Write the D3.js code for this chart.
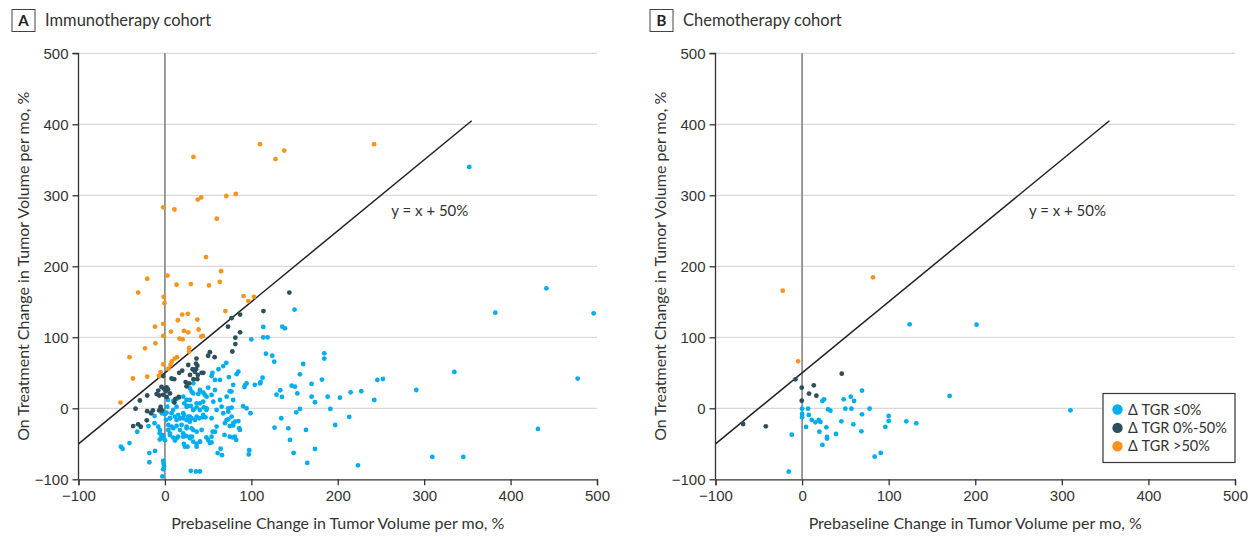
<!DOCTYPE html>
<html>
<head>
<meta charset="utf-8">
<script src="https://cdnjs.cloudflare.com/ajax/libs/d3/7.8.5/d3.min.js"></script>
<style>
  body { margin: 0; background: #fff; }
  svg { font-family: Lato, "Open Sans", sans-serif; }
  .tick text { font-size: 15px; fill: #333; }
</style>
</head>
<body>
<script>
// ---- data: [prebaseline %, on-treatment %] ----
const immunoLow = [ // delta TGR <= 0%
  [100,97],[85,51.5],[83,48],[71,64],[67.5,59.5],[62,55],[55,50],[54,45.5],[63.6,40],[58,40],[74,44],
  [79,33],[75,24],[77,23.5],[92,30],[93,33],[94.5,35],[104,33],[110,35],[90.5,3],[94.5,0],[99,-7],
  [85,-18],[86,-28],[75,-25],[69,-37.5],[75,-40],[78.7,-41],[81,-40],[82.5,-44.6],[61,-63],[66,-66],
  [64.5,-57],[97.6,-59],[97,-65],[54,-48],[52,-49],[48,-41],[30,-88],[36,-89],[40.5,-89],[-3,-96],
  [-2,-74],[-1.5,-78],[-1,-82],[-2,-86],[-18,-63],[-11.5,-60],[-18,-76],[-51,-54],[-49,-57],[-41,-49],
  [-32,-33],[-19,-25],[-12,-21],[-7.7,-26],[-12,-11],[-3.5,-7],[-6,-35],[-4,-40],[-6,-44],[-2,-38],[0,-45],
  [3.5,11.7],[9.6,10.3],[13.5,13.6],[16.2,15],[21.2,16.4],[25,11.7],[22.4,7],[26.2,3.3],[30,3.3],
  [32.8,-2.3],[36.7,1.4],[40.5,7],[45,1.4],[48,-2.3],[13.5,2.3],[9.6,-2.3],[7.7,-7],[11.6,-11.7],
  [15.4,-9.4],[17.4,-14],[22,-9.4],[27,-11.7],[30.9,-14],[34.7,-16.4],[39.7,-14],[43.6,-12.7],[47,-12.7],
  [54,-14],[59.8,-2.3],[65.6,2.3],[67.5,-7],[73.3,-4.7],[77.2,0.9],[79,11.7],[71.4,16.4],[63.7,11.7],
  [56,9.4],[48.2,16.4],[54,18.8],[57.9,25.8],[50,29],[44.4,22],[38.6,20.2],[30.9,23.5],[29,28],
  [32.8,35.2],[40.5,25.8],[5.8,-14],[3.9,-23.5],[7.7,-25.8],[13.5,-24.9],[19.3,-23.5],[25,-25.8],
  [30.9,-28.2],[36.7,-32.9],[42.4,-30.5],[40.5,-47],[36.7,-50.2],[32.8,-47],[29,-40],[24.3,-39],
  [21.2,-35.2],[15.4,-40],[11.6,-45.5],[9.6,-41.3],[5.8,-35.2],[3.9,-30.5],[22,-50.2],[26.2,-54],
  [31.3,-40],[55.2,-32.9],[59.8,-25.8],[57.9,-32.9],[50,-44.6],[54,-40],[73.3,-15.5],[79,-21],
  [86.8,-30.5],[81,-18.8],[1.2,-16.4],[2.7,2.3],[0,-8],[1.9,-6],[79,-24.4],[69.4,-21],[77.2,-11.7],
  [71.4,-16.4],[73.3,0],[110.7,37],[113,43],
  [32.8,21],[40.5,23.4],[46.3,18.7],[28.9,11.7],[36.7,7],[44.3,9.3],[25.1,2.3],[32.8,-2.4],[40.5,-2.4],
  [48.3,0],[21.2,-7],[28.9,-11.8],[36.7,-11.8],[44.3,-9.4],[17.4,-14],[25.1,-16.5],[5.8,-14],[13.5,-16.5],
  [21.2,-14],[28.9,-18.9],[9.6,-28.2],[17.4,-30.6],[25.1,-28.2],[32.8,-30.6],[5.8,-37.6],[13.5,-42.3],
  [21.2,-40],[28.9,-42.3],[40.5,-47],[23.1,-54],[36.7,-54],[-5.8,-30.6],[-3.9,-37.6],[-2,-42.3],
  [150,139],[113.8,114.6],[135.8,115],[138.9,112.7],[113.8,100],[118.8,100],[116.9,77],[124.2,74],
  [126.5,65.7],[184.4,77.5],[184.4,70],[160,62.4],[156.2,47.9],[181.7,40.4],[245.8,39.9],[252.3,41.3],
  [227.2,24],[242.3,11.7],[214.9,22.5],[202.5,15],[188.3,16.4],[169.7,34.3],[173.6,8.5],[169.7,16.4],
  [146.6,31.9],[150.5,30.5],[153.2,21],[133.5,25.4],[129.2,19.2],[135.4,16],[191.4,-0.9],
  [156.2,-0.9],[152,-5.6],[134.6,-14],[126.9,-27.2],[142.8,-28.2],[163.2,-30.5],[144.7,-44.6],
  [197.1,-23.5],[213.3,-12.2],[148.9,-62.9],[173.6,-57.3],[164.7,-77],[223.4,-80.3],
  [352.2,339.9],[382.3,134.7],[441.4,169],[496.1,133.8],[334.9,51.2],[477.6,41.8],[431.7,-29.1],
  [309.4,-68.5],[345.3,-68.5],[290.9,25.8]
];
const immunoMid = [ // delta TGR 0%-50%
  [77,127],[87,132],[114,137],[144,163],[73,115],[87,107],[81.5,99.5],[81.5,90.5],[78,80],[52,79],
  [50,74],[57.5,72],[36.5,70],[36,63],[37.5,60],[27,61],[20,53],[16.5,50],[32,55],[34.5,51.5],[36,55],
  [42.5,50],[44.5,50],[38,47],[29,47],[7.7,42],[10.8,41],[24,37],[28,35],[25,31],[33,41],[37.5,41],
  [-2,45.5],[-4,30],[-1,27.6],[2,29.6],[1,24],[3.5,26.7],[-7.7,25],[-9.6,20],[-6.6,18],[-2,19],[2,16],
  [5.8,21],[12,13],[16,16],[11,8],[-29,11],[-20.5,18],[-34,-0.5],[-20.5,-4],[-14,-3],[-5,2],[-6.6,-3],
  [-3.5,-3],[-36.7,-25],[-31,-22.5],[-28,-26],[-21,-17],[-16,-7]
];
const immunoHigh = [ // delta TGR > 50%
  [33,354],[110,372],[128,351],[138,363],[-2,283],[11,280],[38,294],[42,297],[71,299],[82,302],[60,267],
  [47.5,213],[65,193],[3,187],[-20.5,182.5],[-31,163],[13.5,174],[30,175],[51,173],[63.5,178],
  [-1.5,157],[-0.5,148],[91,158],[96.5,151],[103,157],[70,137],[20,132],[26.5,133],[37.5,125],[15,124],
  [-11.5,115],[-2,119],[7,108],[22,109],[27,107],[39,111],[-2,102],[17,98],[20.5,97],[42,101],[44,102],
  [-11,91.5],[-23,84.5],[28,85],[28,80],[-41,72],[14,72],[11.5,70],[8,66],[6.5,61],[4,56],[-2,62],
  [-5,51],[-7,45.5],[-37,42],[-20.5,44.5],[-51.5,8],[242,372]
];
const chemoLow = [
  [124.2,118.3],[201.5,117.8],[170.4,17.4],[310,-2.8],[120.4,-18.3],[131.9,-21.1],[100,-10.8],
  [100,-17.8],[96.2,-26.3],[78,-0.5],[69.2,24.9],[69.2,-8.5],[68.5,-32.4],[56.2,16.4],[60,10.3],
  [48,12.7],[57,-0.5],[50,-0.5],[45.4,-18.3],[59.2,-22.5],[39.2,-36.2],[90.8,-62.9],[83.8,-68.1],
  [30,-1.4],[32.7,-3.3],[23.5,10.3],[25.4,12.7],[28,-26.8],[28.8,-40.4],[28.8,-42.7],[23.5,-51.6],
  [20,-32.9],[19.2,-16.4],[21.2,-19.2],[15.4,-19.7],[11.2,-16.4],[4.6,-26.3],[6.9,-0.5],[7.7,-9.4],
  [0,-0.5],[0,-8],[0,-12.7],[-11.9,-37.1],[-15.4,-89.2]
];
const chemoMid = [
  [-68.1,-22.1],[-41.9,-25.4],[-7.7,40.8],[-0.4,29.1],[-0.4,10.8],[8,20.7],[13.5,32.4],[16.5,17.8],[45.8,48.8]
];
const chemoHigh = [[-22.3,165.7],[81.9,184.5],[-4.6,66.2]];

const groupLabels = ["\u0394 TGR \u22640%", "\u0394 TGR 0%-50%", "\u0394 TGR >50%"];
const groupColors = ["#00aeef", "#2c4f5c", "#f7941d"];
const xTicks = [-100, 0, 100, 200, 300, 400, 500];
const yTicks = [-100, 0, 100, 200, 300, 400, 500];

const W = 1256, H = 537;
const svg = d3.select("body").append("svg").attr("width", W).attr("height", H);

function panel(letter, title, x0, x1, groups, titleX, legend) {
  const x = d3.scaleLinear().domain([-100, 500]).range([x0, x1]);
  const y = d3.scaleLinear().domain([-100, 500]).range([479.3, 53.3]);
  const g = svg.append("g");

  // panel title
  g.append("rect").attr("x", titleX).attr("y", 9.5).attr("width", 23).attr("height", 22)
    .attr("fill", "none").attr("stroke", "#444").attr("stroke-width", 1);
  g.append("text").attr("x", titleX + 11.5).attr("y", 26).attr("text-anchor", "middle")
    .style("font-size", "15px").style("font-weight", "bold").attr("fill", "#222").text(letter);
  g.append("text").attr("x", titleX + 33).attr("y", 26)
    .style("font-size", "16.5px").attr("fill", "#333").text(title);

  // grid
  g.selectAll(".grid").data(yTicks.filter(d => d > -100)).enter().append("line")
    .attr("x1", x0).attr("x2", x1).attr("y1", d => y(d)).attr("y2", d => y(d))
    .attr("stroke", "#d9d9d9").attr("stroke-width", 1.2);

  // axes
  const ya = g.append("g").attr("transform", `translate(${x0},0)`)
    .call(d3.axisLeft(y).tickValues(yTicks).tickSize(6).tickPadding(4));
  const xa = g.append("g").attr("transform", `translate(0,${y(-100)})`)
    .call(d3.axisBottom(x).tickValues(xTicks).tickSize(6).tickPadding(5));
  [ya, xa].forEach(a => {
    a.select(".domain").attr("stroke", "#333").attr("stroke-width", 1.3);
    a.selectAll(".tick line").attr("stroke", "#333").attr("stroke-width", 1.3);
  });
  ya.select(".domain").attr("d", `M-6,${y(500)}H0V${y(-100)}`);

  // zero line
  g.append("line").attr("x1", x(0)).attr("x2", x(0)).attr("y1", y(500)).attr("y2", y(-100))
    .attr("stroke", "#7a7a7a").attr("stroke-width", 1.5);

  // y = x + 50 line
  g.append("line").attr("x1", x(-100)).attr("y1", y(-50)).attr("x2", x(355)).attr("y2", y(405))
    .attr("stroke", "#222").attr("stroke-width", 1.5);
  g.append("text").attr("x", x(262)).attr("y", y(271)).style("font-size", "15px")
    .attr("fill", "#333").text("y = x + 50%");

  // points
  groups.forEach((pts, i) => {
    g.append("g").selectAll("circle").data(pts).enter().append("circle")
      .attr("cx", d => x(d[0])).attr("cy", d => y(d[1])).attr("r", 2.4)
      .attr("fill", groupColors[i]);
  });

  // axis titles
  g.append("text").attr("x", (x0 + x1) / 2).attr("y", 529).attr("text-anchor", "middle")
    .style("font-size", "16px").attr("fill", "#333")
    .text("Prebaseline Change in Tumor Volume per mo, %");
  g.append("text").attr("transform", `translate(${x0 - 50},${(y(500) + y(-100)) / 2}) rotate(-90)`)
    .attr("text-anchor", "middle").style("font-size", "16px").attr("fill", "#333")
    .text("On Treatment Change in Tumor Volume per mo, %");

  if (legend) {
    const lg = g.append("g").attr("transform", "translate(1103,393.5)");
    lg.append("rect").attr("width", 132).attr("height", 69).attr("fill", "#fff")
      .attr("stroke", "#333").attr("stroke-width", 1.2);
    const row = lg.selectAll(".row").data(groupLabels).enter().append("g")
      .attr("transform", (d, i) => `translate(0,${16 + i * 18.4})`);
    row.append("circle").attr("cx", 14.5).attr("cy", 0).attr("r", 5.2)
      .attr("fill", (d, i) => groupColors[i]);
    row.append("text").attr("x", 25).attr("y", 5).style("font-size", "14.5px")
      .attr("fill", "#333").text(d => d);
  }
}

panel("A", "Immunotherapy cohort", 78.5, 597, [immunoLow, immunoMid, immunoHigh], 12, false);
panel("B", "Chemotherapy cohort", 715.5, 1235, [chemoLow, chemoMid, chemoHigh], 650, true);
</script>
</body>
</html>
